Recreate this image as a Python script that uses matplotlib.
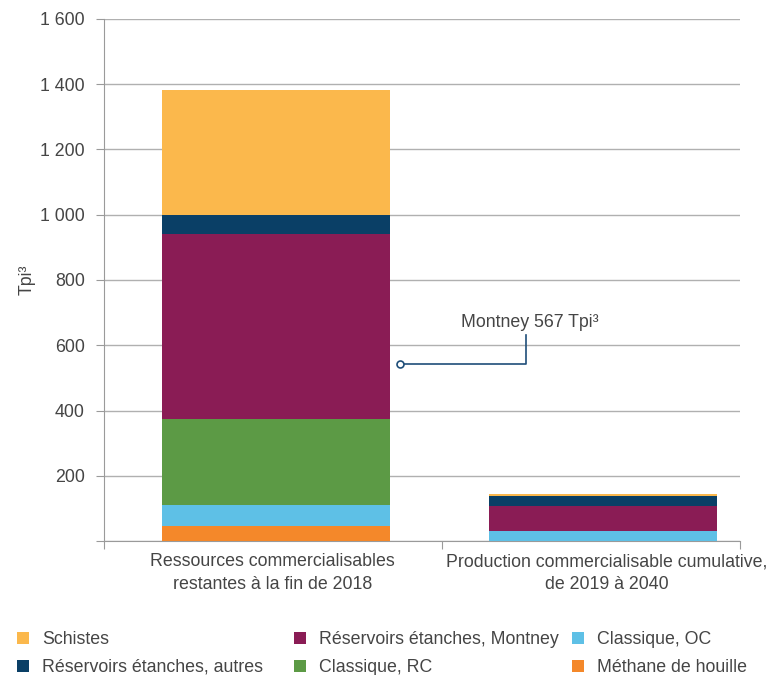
import numpy as np
import matplotlib
matplotlib.use("Agg")
from matplotlib import pyplot as plt
from matplotlib.patches import Patch

plt.rcParams['font.family'] = ['Liberation Sans', 'DejaVu Sans']

# données (Tpi³), de bas en haut de la pile
categories = ["Ressources commercialisables\nrestantes à la fin de 2018",
              "Production commercialisable cumulative,\nde 2019 à 2040"]
series = ["Méthane de houille", "Classique, OC", "Classique, RC",
          "Réservoirs étanches, Montney", "Réservoirs étanches, autres", "Schistes"]
methane = [47, 0]
classique_oc = [63, 30]
classique_rc = [264, 0]
montney = [567, 78]
etanches_autres = [59, 30]
schistes = [381, 6]
colors = ["#F4882A", "#5EC0E6", "#5C9A45", "#8A1C55", "#0A3F66", "#FBB84C"]

yticks = [0, 200, 400, 600, 800, 1000, 1200, 1400, 1600]
ytick_labels = ["", "200", "400", "600", "800", "1 000", "1 200", "1 400", "1 600"]

values = [methane, classique_oc, classique_rc, montney, etanches_autres, schistes]
x = np.array([0.541, 1.569])
width = 0.717
fs = 12.8
txt_col = "#454545"

fig = plt.figure(figsize=(7.83, 6.75), dpi=100)
ax = fig.add_axes([0.133, 0.1985, 0.812, 0.7734])

bottom = np.zeros(2)
for vals, col in zip(values, colors):
    ax.bar(x, vals, width, bottom=bottom, color=col, zorder=3)
    bottom += np.array(vals)

ax.set_xlim(0, 2)
ax.set_ylim(0, 1600)
ax.set_yticks(yticks)
ax.set_yticklabels(ytick_labels)
ax.yaxis.grid(True, color="#B0B0B0", linewidth=1.0, zorder=0)
for s in ["top", "right"]:
    ax.spines[s].set_visible(False)
ax.spines["left"].set_color("#9A9A9A")
ax.spines["bottom"].set_color("#9A9A9A")
ax.tick_params(axis="y", colors="#9A9A9A", labelcolor=txt_col, labelsize=fs,
               length=6, direction="out", pad=8)

# séparateurs de catégories
ax.set_xticks([0, 1.063, 2])
ax.set_xticklabels([])
ax.tick_params(axis="x", colors="#9A9A9A", length=6, direction="out")
for xi, lab in zip([0.53, 1.58], categories):
    ax.text(xi, -38, lab, ha="center", va="top", fontsize=fs, color=txt_col,
            linespacing=1.45)

ax.set_ylabel("Tpi³", fontsize=fs, color=txt_col, labelpad=3)

# annotation Montney
line_col = "#1F4E79"
ax.plot([0.93, 1.326, 1.326], [543, 543, 630], color=line_col, lw=1.2, zorder=4)
ax.plot([0.93], [543], marker="o", ms=5, mfc="white", mec=line_col, mew=1.2, zorder=5)
ax.text(1.34, 645, "Montney 567 Tpi³", ha="center", va="bottom", fontsize=fs,
        color=txt_col)

# légende : trois colonnes à positions fixes
columns = [[5, 4], [3, 2], [1, 0]]
col_x = [0.012, 0.366, 0.721]
for cx, idx in zip(col_x, columns):
    handles = [Patch(facecolor=colors[i], edgecolor="none") for i in idx]
    labels = [series[i] for i in idx]
    fig.legend(handles, labels, loc="lower left", bbox_to_anchor=(cx, -0.012),
               frameon=False, fontsize=fs, handlelength=0.7, handleheight=0.7,
               handletextpad=0.75, labelspacing=0.62, borderaxespad=0.0,
               labelcolor=txt_col)

fig.savefig("out.png", dpi=100)
